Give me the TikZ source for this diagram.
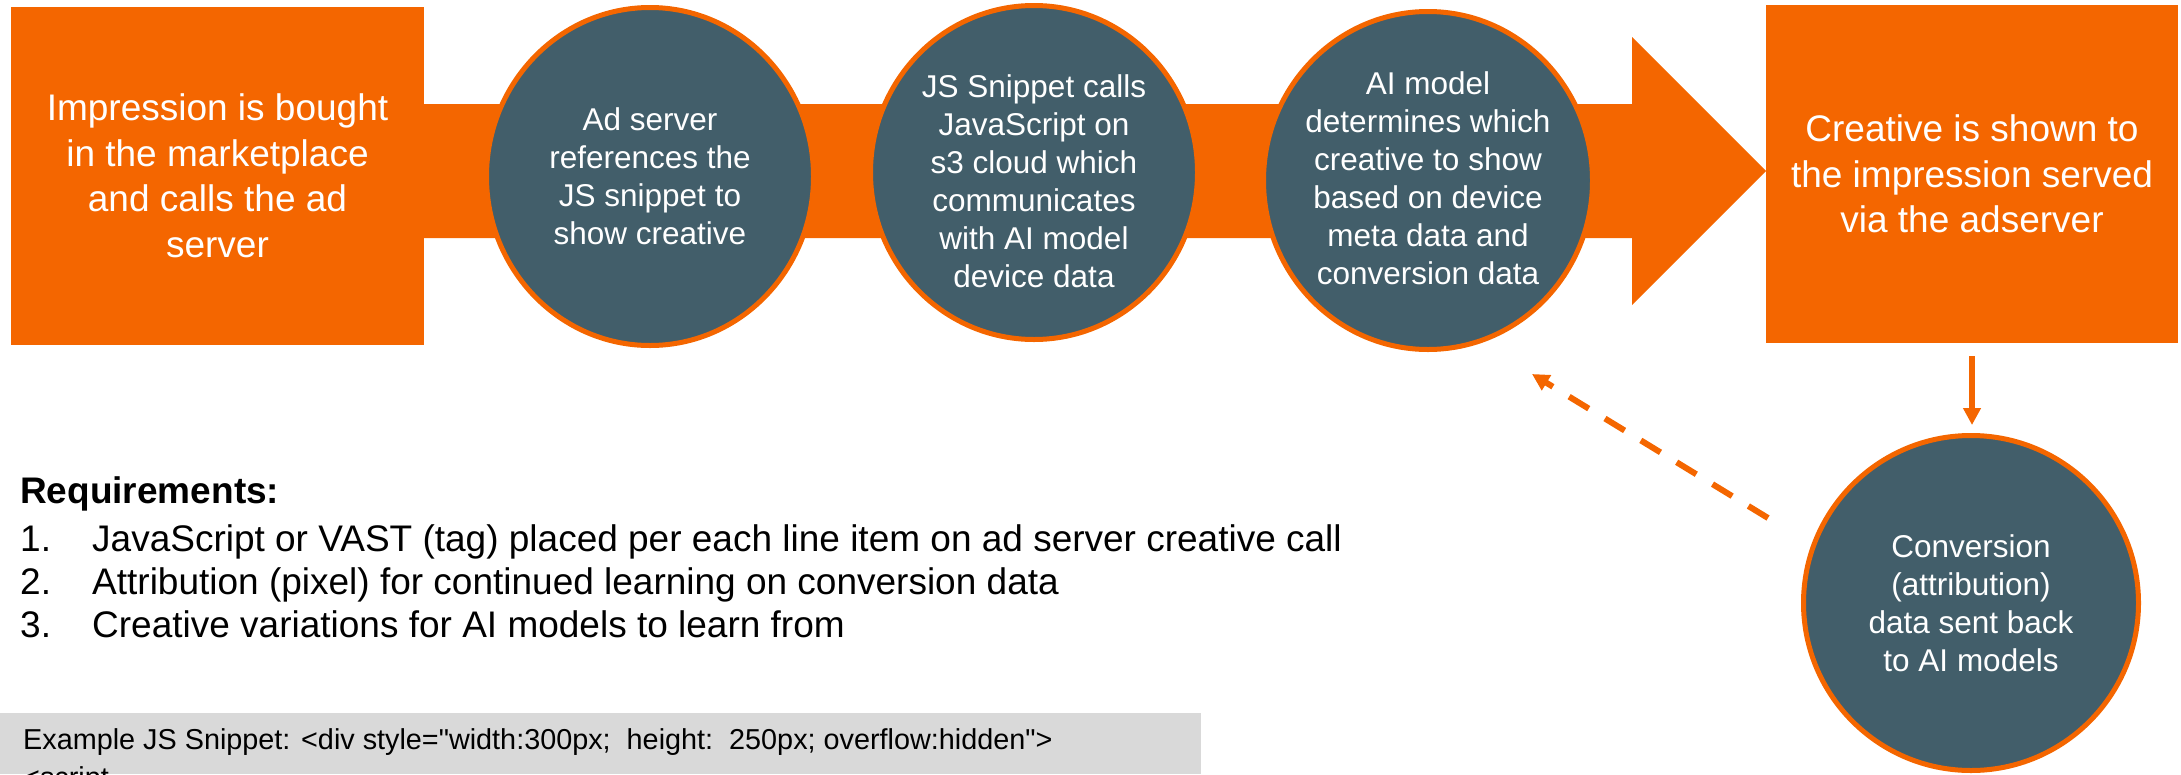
\documentclass[tikz,border=0pt]{standalone}
\usepackage{fontspec}
\setmainfont{Liberation Sans}
\newfontfamily\codesans[Ligatures=TeXOff]{Liberation Sans}
\usetikzlibrary{shapes.geometric,arrows.meta}
\definecolor{flow}{RGB}{244,102,0}
\definecolor{slate}{RGB}{66,94,106}
\definecolor{panel}{RGB}{217,217,217}
\begin{document}
\begin{tikzpicture}[x=1pt,y=-1pt,
  stagebox/.style={rectangle, fill=flow, draw=none, inner sep=0pt, text=white,
    align=center, font=\fontsize{37}{45.5}\selectfont},
  bubble/.style={ellipse, draw=flow, fill=slate, line width=5pt, inner sep=0pt},
  bubbletext/.style={text=white, align=center, inner sep=0pt,
    font=\fontsize{31.5}{38}\selectfont},
  listtext/.style={anchor=base west, inner sep=0pt, font=\fontsize{37}{44}\selectfont},
  codetext/.style={anchor=base west, inner sep=0pt, font=\codesans\fontsize{28.8}{34}\selectfont},
  flowarrow/.style={draw=flow, line width=6pt, -{Triangle[length=17pt,width=17pt]}}
]
\useasboundingbox (0,0) rectangle (2181,774);

% main process arrow behind the stages
\fill[flow] (424,104) -- (1632,104) -- (1632,37) -- (1766,171) -- (1632,305)
  -- (1632,238) -- (424,238) -- cycle;

% start and end stages
\node[stagebox, minimum width=413pt, minimum height=338pt] (start) at (217.5,176)
  {Impression is bought\\in the marketplace\\and calls the ad\\server};
\node[stagebox, minimum width=412pt, minimum height=338pt] (finish) at (1972,174)
  {Creative is shown to\\the impression served\\via the adserver};

% intermediate steps
\node[bubble, minimum width=327pt, minimum height=338pt] (adserver) at (650,176.5) {};
\node[bubbletext] (adservertext) at (adserver)
  {Ad server\\references the\\JS snippet to\\show creative};

\node[bubble, minimum width=327pt, minimum height=334pt] (snippet) at (1034,172.5) {};
\node[bubbletext] (snippettext) at (1034,181)
  {JS Snippet calls\\JavaScript on\\s3 cloud which\\communicates\\with AI model\\device data};

\node[bubble, minimum width=329pt, minimum height=338pt] (model) at (1428,180.5) {};
\node[bubbletext] (modeltext) at (1428,178)
  {AI model\\determines which\\creative to show\\based on device\\meta data and\\conversion data};

\node[bubble, minimum width=335pt, minimum height=335pt] (conversion) at (1971,603) {};
\node[bubbletext] (conversiontext) at (conversion)
  {Conversion\\(attribution)\\data sent back\\to AI models};

% feedback connectors
\draw[flowarrow, shorten <=13pt, shorten >=8pt] (finish.south) -- (finish.south |- conversion.north);
\coordinate (fbtail) at (1768,518);
\coordinate (fbtip) at (1532,374);
\draw[flowarrow, dash pattern=on 23pt off 19pt] (fbtail) -- (fbtip);

% requirements list
\node[listtext, font=\bfseries\fontsize{37}{44}\selectfont] (reqhead) at (20,503) {Requirements:};
\node[listtext] (num1) at (20,551) {1.};
\node[listtext] (req1) at (92,551) {JavaScript or VAST (tag) placed per each line item on ad server creative call};
\node[listtext] (num2) at (20,594) {2.};
\node[listtext] (req2) at (92,594) {Attribution (pixel) for continued learning on conversion data};
\node[listtext] (num3) at (20,637) {3.};
\node[listtext] (req3) at (92,637) {Creative variations for AI models to learn from};

% example snippet panel, running on past the lower edge
\begin{scope}
  \clip (0,713) rectangle (1201,774);
  \fill[panel] (0,713) rectangle (1201,774);
  \node[codetext] (example1) at (23,749)
    {Example JS Snippet: <div style="width:300px;\ \ height:\ \ 250px; overflow:hidden">};
  \node[codetext] (example2) at (23,787) {<script};
\end{scope}
\end{tikzpicture}
\end{document}
